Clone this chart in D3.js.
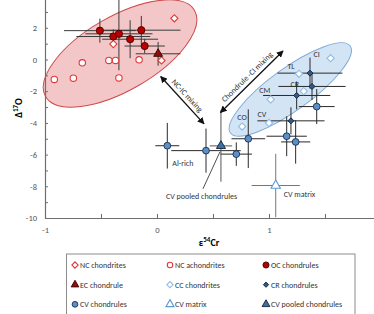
<!DOCTYPE html>
<html>
<head>
<meta charset="utf-8">
<script src="https://cdn.jsdelivr.net/npm/d3@7"></script>
<style>
  body { margin: 0; background: #fff; }
  svg { display: block; font-family: 'Carlito', 'Open Sans', sans-serif; }
</style>
</head>
<body>
<svg></svg>
<script>
// data (e54Cr, D17O, 2SE)
const ncChondrites = [{x: 0.155, y: 2.6}, {x: -0.39, y: 0.97}, {x: 0.04, y: -0.06}];
const ncAchondrites = [
  {x: -0.917, y: -1.26}, {x: -0.747, y: -1.18}, {x: -0.667, y: -0.21}, {x: -0.43, y: -0.06},
  {x: -0.37, y: -0.06}, {x: -0.16, y: -0.02}, {x: -0.34, y: -1.16}
];
const ocChondrules = [
  {x: -0.51, y: 1.82, xe: 0.32, ye: 0.76},
  {x: -0.39, y: 1.45, xe: 0.33, ye: 0.45},
  {x: -0.34, y: 1.62, xe: 0.3, ye: 2.3},
  {x: -0.24, y: 1.28, xe: 0.25, ye: 1.2},
  {x: -0.14, y: 1.85, xe: 0.35, ye: 0.9},
  {x: -0.11, y: 0.85, xe: 0.18, ye: 0.45}
];
const ecChondrule = [{x: 0.01, y: 0.36, xe: 0.2, ye: 0.75}];
const ccChondrites = [
  {name: 'CI', x: 1.55, y: 0.08}, {name: 'TL', x: 1.268, y: -0.9}, {name: 'CR', x: 1.31, y: -2.0},
  {name: 'CM', x: 1.015, y: -2.52}, {name: 'CV', x: 1.0, y: -4.0}, {name: 'CO', x: 0.76, y: -4.23}
];
const crChondrules = [
  {x: 1.366, y: -0.86, xe: 0.29, ye: 0.98},
  {x: 1.384, y: -1.7, xe: 0.3, ye: 0.86},
  {x: 1.247, y: -2.27, xe: 0.3, ye: 0.88},
  {x: 1.196, y: -3.87, xe: 0.3, ye: 0.85}
];
const cvChondrules = [
  {x: 1.426, y: -2.97, xe: 0.16, ye: 1.1},
  {x: 0.815, y: -5.0, xe: 0.15, ye: 1.85},
  {x: 1.158, y: -4.84, xe: 0.18, ye: 1.26},
  {x: 1.238, y: -5.2, xe: 0.13, ye: 1.37},
  {x: 0.708, y: -5.97, xe: 0.14, ye: 0.74},
  {x: 0.4375, y: -5.75, xe: 0.31, ye: 1.39},
  {x: 0.092, y: -5.44, xe: 0.107, ye: 1.44, name: 'Al-rich'}
];
const cvMatrix = [{x: 1.06, y: -7.95, xe: 0.215, ye: 2.0}];
const cvPooled = [{x: 0.571, y: -5.45, xe: 0.1, ye: 2.26}];

const xTicks = d3.range(-1, 2.01, 0.5);
const xLabels = [-1, 0, 1];
const yTicks = d3.range(-10, 4.01, 1);
const yLabels = [-10, -8, -6, -4, -2, 0, 2];

// mixing fields and arrows
const ncField = {x: -0.33, y: 0.38};
const ccField = {x: 1.19, y: -1.89};
const ncIcArrow = [[0.033, -1.07], [0.42, -4.06]];
const chondCiArrow = [[0.567, -3.34], [1.125, 0.54]];

const width = 374;
const height = 314;
const svg = d3.select('svg')
  .attr('width', width)
  .attr('height', height);

const x = d3.scaleLinear().domain([-1, 2]).range([45, 381]);
const y = d3.scaleLinear().domain([-10, 4]).range([218, -3.9]);

const defs = svg.append('defs');
defs.append('marker')
  .attr('id', 'head')
  .attr('viewBox', '0 0 10 10')
  .attr('refX', 9).attr('refY', 5)
  .attr('markerWidth', 7).attr('markerHeight', 7)
  .attr('markerUnits', 'userSpaceOnUse')
  .attr('orient', 'auto-start-reverse')
  .append('path')
  .attr('d', 'M0,0L10,5L0,10z')
  .attr('fill', '#111');

// ellipses
svg.append('ellipse')
  .attr('transform', `translate(${x(ncField.x)},${y(ncField.y)}) rotate(-30)`)
  .attr('rx', 86).attr('ry', 37)
  .attr('fill', '#f3c7c7')
  .attr('stroke', '#d0494a')
  .attr('stroke-width', 1);

svg.append('ellipse')
  .attr('transform', `translate(${x(ccField.x)},${y(ccField.y)}) rotate(-36)`)
  .attr('rx', 74).attr('ry', 21)
  .attr('fill', '#d3e4f4')
  .attr('stroke', '#7fabd8')
  .attr('stroke-width', 1);

// axes
const xAxis = d3.axisBottom(x)
  .tickValues(xTicks)
  .tickSize(-4)
  .tickSizeOuter(0)
  .tickPadding(9)
  .tickFormat(d => xLabels.includes(d) ? d : '');
const yAxis = d3.axisLeft(y)
  .tickValues(yTicks)
  .tickSize(-3)
  .tickSizeOuter(0)
  .tickPadding(8)
  .tickFormat(d => yLabels.includes(d) ? d : '');

const gx = svg.append('g')
  .attr('transform', `translate(0, ${y(-10)})`)
  .call(xAxis);
const gy = svg.append('g')
  .attr('transform', `translate(${x(-1)}, 0)`)
  .call(yAxis);
[gx, gy].forEach(g => {
  g.select('.domain').attr('stroke', '#6f6f6f').attr('stroke-width', 1.2);
  g.selectAll('.tick line').attr('stroke', '#6f6f6f');
  g.selectAll('.tick text').attr('fill', '#555').style('font-size', '8.5px').style('font-family', "'Carlito', 'Open Sans', sans-serif");
});

svg.append('text')
  .attr('x', 209)
  .attr('y', 246)
  .style('text-anchor', 'middle')
  .style('font-size', '10px')
  .style('font-weight', 'bold')
  .html('ε<tspan dy="-4" font-size="7px">54</tspan><tspan dy="4">Cr</tspan>');

svg.append('text')
  .attr('transform', 'rotate(-90)')
  .attr('x', -108)
  .attr('y', 22)
  .style('text-anchor', 'middle')
  .style('font-size', '10px')
  .style('font-weight', 'bold')
  .html('Δ<tspan dy="-4" font-size="7px">17</tspan><tspan dy="4">O</tspan>');

// error bars
function errorBars(data, color) {
  const g = svg.append('g').attr('stroke', color).attr('stroke-width', 1);
  g.selectAll('.h').data(data).enter().append('line')
    .attr('x1', d => x(d.x - d.xe)).attr('x2', d => x(d.x + d.xe))
    .attr('y1', d => y(d.y)).attr('y2', d => y(d.y));
  g.selectAll('.v').data(data).enter().append('line')
    .attr('x1', d => x(d.x)).attr('x2', d => x(d.x))
    .attr('y1', d => y(d.y - d.ye)).attr('y2', d => y(d.y + d.ye));
}
errorBars(ocChondrules, '#3a3a3a');
errorBars(ecChondrule, '#3a3a3a');
errorBars(crChondrules, '#2a2a2a');
errorBars(cvChondrules, '#2a2a2a');
errorBars(cvPooled, '#555');
errorBars(cvMatrix, '#777');

function drawPoints(data, style) {
  const sel = svg.append('g').selectAll('path').data(data).enter();
  if (style.shape === 'circle') {
    sel.append('circle')
      .attr('cx', d => x(d.x)).attr('cy', d => y(d.y))
      .attr('r', style.r)
      .attr('fill', style.fill).attr('stroke', style.stroke).attr('stroke-width', style.sw);
  } else {
    const sym = d3.symbol().type(style.shape === 'diamond' ? d3.symbolSquare : d3.symbolTriangle).size(style.size);
    sel.append('path')
      .attr('d', sym)
      .attr('transform', d => `translate(${x(d.x)},${y(d.y)})` + (style.shape === 'diamond' ? ' rotate(45)' : ''))
      .attr('fill', style.fill).attr('stroke', style.stroke).attr('stroke-width', style.sw);
  }
}

const styles = {
  ncChondrites: {shape: 'diamond', size: 26, fill: '#fff', stroke: '#e0393a', sw: 1.1},
  ncAchondrites: {shape: 'circle', r: 3.2, fill: '#fff', stroke: '#e0393a', sw: 1.1},
  ocChondrules: {shape: 'circle', r: 3.6, fill: '#b80000', stroke: '#4a0000', sw: 0.9},
  ecChondrule: {shape: 'triangle', size: 34, fill: '#8a1010', stroke: '#3a0000', sw: 0.9},
  ccChondrites: {shape: 'diamond', size: 26, fill: '#fff', stroke: '#8fbce6', sw: 1.1},
  crChondrules: {shape: 'diamond', size: 18, fill: '#2f5b8a', stroke: '#15233b', sw: 0.9},
  cvChondrules: {shape: 'circle', r: 3.4, fill: '#5b8fc8', stroke: '#1b2f4d', sw: 0.9},
  cvMatrix: {shape: 'triangle', size: 38, fill: '#fff', stroke: '#5b9bd5', sw: 1.1},
  cvPooled: {shape: 'triangle', size: 36, fill: '#3d6fa3', stroke: '#13233b', sw: 0.9}
};

drawPoints(ncAchondrites, styles.ncAchondrites);
drawPoints(ncChondrites, styles.ncChondrites);
drawPoints(ocChondrules, styles.ocChondrules);
drawPoints(ecChondrule, styles.ecChondrule);
drawPoints(ccChondrites, styles.ccChondrites);
drawPoints(crChondrules, styles.crChondrules);
drawPoints(cvChondrules, styles.cvChondrules);
drawPoints(cvMatrix, styles.cvMatrix);
drawPoints(cvPooled, styles.cvPooled);

// labels of CC chondrite groups
const labelOffset = {CI: [-14, -4], TL: [-8, -8], CR: [-9, -7], CM: [-6, -9], CV: [-7, -9], CO: [0, -9]};
svg.append('g').selectAll('text').data(ccChondrites).enter().append('text')
  .attr('x', d => x(d.x) + labelOffset[d.name][0])
  .attr('y', d => y(d.y) + labelOffset[d.name][1])
  .attr('dy', '0.35em')
  .style('text-anchor', 'middle')
  .style('font-size', '8px')
  .attr('fill', '#333')
  .text(d => d.name);

const alRich = cvChondrules.find(d => d.name === 'Al-rich');
svg.append('text')
  .attr('x', x(alRich.x) + 5)
  .attr('y', y(alRich.y) + 17)
  .attr('dy', '0.35em')
  .style('font-size', '8px')
  .attr('fill', '#333')
  .text('Al-rich');

svg.append('text')
  .attr('x', x(cvMatrix[0].x) + 8)
  .attr('y', y(cvMatrix[0].y) + 9)
  .attr('dy', '0.35em')
  .style('font-size', '8px')
  .attr('fill', '#333')
  .text('CV matrix');

const pooledLabel = [x(cvPooled[0].x) - 55, y(cvPooled[0].y) + 50];
svg.append('text')
  .attr('x', pooledLabel[0])
  .attr('y', pooledLabel[1])
  .attr('dy', '0.35em')
  .style('font-size', '8px')
  .attr('fill', '#333')
  .text('CV pooled chondrules');
svg.append('line')
  .attr('x1', pooledLabel[0] + 37).attr('y1', pooledLabel[1] - 7)
  .attr('x2', x(cvPooled[0].x) - 1).attr('y2', y(cvPooled[0].y) + 6)
  .attr('stroke', '#222').attr('stroke-width', 0.8);

// mixing arrows
function mixArrow(pts, label, offset) {
  const p0 = [x(pts[0][0]), y(pts[0][1])];
  const p1 = [x(pts[1][0]), y(pts[1][1])];
  svg.append('line')
    .attr('x1', p0[0]).attr('y1', p0[1]).attr('x2', p1[0]).attr('y2', p1[1])
    .attr('stroke', '#111').attr('stroke-width', 1.3)
    .attr('marker-start', 'url(#head)').attr('marker-end', 'url(#head)');
  let ang = Math.atan2(p1[1] - p0[1], p1[0] - p0[0]) * 180 / Math.PI;
  if (ang > 90) ang -= 180;
  if (ang < -90) ang += 180;
  svg.append('text')
    .attr('transform', `translate(${(p0[0] + p1[0]) / 2},${(p0[1] + p1[1]) / 2}) rotate(${ang})`)
    .attr('y', offset)
    .style('text-anchor', 'middle')
    .style('font-size', '8px')
    .attr('fill', '#333')
    .text(label);
}
mixArrow(ncIcArrow, 'NC-IC mixing', -4);
mixArrow(chondCiArrow, 'Chondrule -CI mixing', -4);

// legend
const legendItems = [
  {label: 'NC chondrites', s: 'ncChondrites'}, {label: 'NC achondrites', s: 'ncAchondrites'}, {label: 'OC chondrules', s: 'ocChondrules'},
  {label: 'EC chondrule', s: 'ecChondrule'}, {label: 'CC chondrites', s: 'ccChondrites'}, {label: 'CR chondrules', s: 'crChondrules'},
  {label: 'CV chondrules', s: 'cvChondrules'}, {label: 'CV matrix', s: 'cvMatrix'}, {label: 'CV pooled chondrules', s: 'cvPooled'}
];
const legend = svg.append('g');
legend.append('rect')
  .attr('x', 66.5).attr('y', 254)
  .attr('width', 288.5).attr('height', 70)
  .attr('fill', '#fff')
  .attr('stroke', '#8c8c8c');
const colX = [75, 170, 266];
const rowY = [265, 284.7, 304.3];
legendItems.forEach((d, i) => {
  const cx = colX[i % 3];
  const cy = rowY[Math.floor(i / 3)];
  const st = styles[d.s];
  if (st.shape === 'circle') {
    legend.append('circle').attr('cx', cx).attr('cy', cy).attr('r', st.r * 0.85)
      .attr('fill', st.fill).attr('stroke', st.stroke).attr('stroke-width', st.sw);
  } else {
    const sym = d3.symbol().type(st.shape === 'diamond' ? d3.symbolSquare : d3.symbolTriangle).size(st.size * 0.75);
    legend.append('path').attr('d', sym)
      .attr('transform', `translate(${cx},${cy})` + (st.shape === 'diamond' ? ' rotate(45)' : ''))
      .attr('fill', st.fill).attr('stroke', st.stroke).attr('stroke-width', st.sw);
  }
  legend.append('text')
    .attr('x', cx + 5).attr('y', cy)
    .attr('dy', '0.35em')
    .style('font-size', '8px')
    .attr('fill', '#333')
    .text(d.label);
});
</script>
</body>
</html>
